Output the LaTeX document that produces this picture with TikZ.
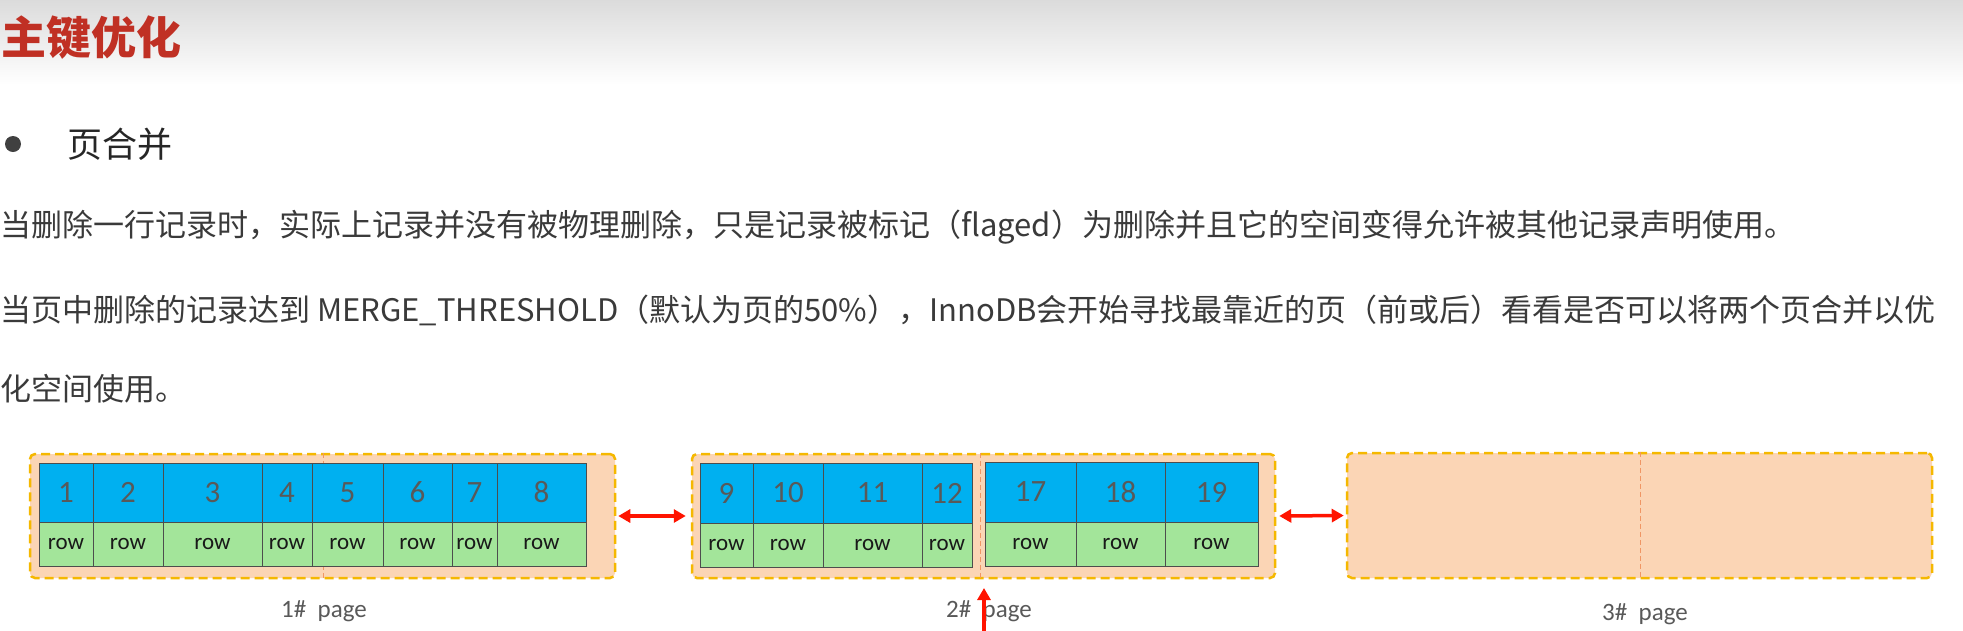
\documentclass[tikz,border=0pt]{standalone}
\usepackage{fontspec}
\usetikzlibrary{arrows.meta}
\newfontfamily\cjk{Noto Sans CJK SC}
\newfontfamily\carl{Carlito}
\definecolor{titlered}{RGB}{192,48,36}
\definecolor{bodygray}{RGB}{58,58,58}
\definecolor{cellbluec}{RGB}{0,176,240}
\definecolor{cellgreenc}{RGB}{163,229,154}
\definecolor{celllinec}{RGB}{77,77,77}
\definecolor{numgray}{RGB}{89,89,89}
\definecolor{peach}{RGB}{251,213,181}
\definecolor{goldc}{RGB}{245,184,0}
\definecolor{innerdash}{RGB}{240,150,100}
\definecolor{arrred}{RGB}{255,20,0}
\tikzset{
  bodytext/.style={anchor=west, inner sep=0pt, text=bodygray, font=\cjk\fontsize{31}{36}\selectfont},
  bluecell/.style={draw=celllinec, line width=1pt, fill=cellbluec, inner sep=0pt, text=numgray, font=\carl\fontsize{31}{34}\selectfont},
  greencell/.style={draw=celllinec, line width=1pt, fill=cellgreenc, inner sep=0pt, text=black!90, font=\carl\fontsize{23}{26}\selectfont},
  pagebox/.style={draw=goldc, line width=2.5pt, dash pattern=on 9pt off 5pt, fill=peach, rounded corners=5pt, inner sep=0pt},
  innerline/.style={draw=innerdash, line width=0.8pt, dash pattern=on 5pt off 3pt},
  redarrow/.style={draw=arrred, line width=3.5pt, arrows={Triangle[length=12pt,width=13pt]-Triangle[length=12pt,width=13pt]}},
  redup/.style={draw=arrred, line width=3.5pt, arrows={-Triangle[length=12pt,width=13pt]}},
  pagelabel/.style={inner sep=0pt, text=numgray, font=\carl\fontsize{25}{28}\selectfont},
}
% #1 name, #2 x0, #3 x1, #4 label, #5 ytop, #6 ymid, #7 ybot
\newcommand\mkcell[7]{%
  \node[bluecell, minimum width={(#3-#2)*1pt}, minimum height={(#6-#5)*1pt}] (#1b) at ({(#2+#3)/2},{(#5+#6)/2}) {#4};
  \node[greencell, minimum width={(#3-#2)*1pt}, minimum height={(#7-#6)*1pt}] (#1g) at ({(#2+#3)/2},{(#6+#7)/2}) {row};
}
\begin{document}
\begin{tikzpicture}[x=1pt,y=-1pt]
\useasboundingbox (0,0) rectangle (1963,630);
\clip (0,0) rectangle (1963,630);
\fill[white] (0,0) rectangle (1963,630);
\shade[top color=black!14, bottom color=white] (0,0) rectangle (1963,85);

% heading texts
\node[anchor=west, inner sep=0pt, text=titlered, font=\cjk\bfseries\fontsize{45}{50}\selectfont] (title) at (1,38) {主键优化};
\node[circle, fill=black!75, minimum size=16pt, inner sep=0pt] (bullet) at (13,144) {};
\node[anchor=west, inner sep=0pt, text=black!85, font=\cjk\fontsize{35}{40}\selectfont] (sub) at (67,144) {页合并};
\node[bodytext] (line1) at (0,227) {当删除一行记录时，实际上记录并没有被物理删除，只是记录被标记（flaged）为删除并且它的空间变得允许被其他记录声明使用。};
\node[bodytext] (line2) at (0,310) {当页中删除的记录达到 MERGE\_THRESHOLD（默认为页的50\%），InnoDB会开始寻找最靠近的页（前或后）看看是否可以将两个页合并以优};
\node[bodytext] (line3) at (0,389) {化空间使用。};

% pages
\node[pagebox, minimum width=585pt, minimum height=124pt] (p1) at (322.5,516) {};
\node[pagebox, minimum width=583pt, minimum height=124pt] (p2) at (983.5,516) {};
\node[pagebox, minimum width=585pt, minimum height=125pt] (p3) at (1639.5,515.5) {};
\draw[innerline] (p1.north -| 323,0) -- (p1.south -| 323,0);
\draw[innerline] (p2.north -| 980,0) -- (p2.south -| 980,0);
\draw[innerline] (p3.north -| 1640,0) -- (p3.south -| 1640,0);

% page 1 cells
\mkcell{c1}{39}{93}{1}{463}{522}{566}
\mkcell{c2}{93}{163}{2}{463}{522}{566}
\mkcell{c3}{163}{262}{3}{463}{522}{566}
\mkcell{c4}{262}{312}{4}{463}{522}{566}
\mkcell{c5}{312}{383}{5}{463}{522}{566}
\mkcell{c6}{383}{452}{6}{463}{522}{566}
\mkcell{c7}{452}{497}{7}{463}{522}{566}
\mkcell{c8}{497}{586}{8}{463}{522}{566}
% page 2 cells
\mkcell{c9}{700}{753}{9}{463}{523}{567}
\mkcell{c10}{753}{823}{10}{463}{523}{567}
\mkcell{c11}{823}{922}{11}{463}{523}{567}
\mkcell{c12}{922}{972}{12}{463}{523}{567}
\mkcell{c17}{985}{1076}{17}{462}{522}{566}
\mkcell{c18}{1076}{1165}{18}{462}{522}{566}
\mkcell{c19}{1165}{1258}{19}{462}{522}{566}

% arrows
\draw[redarrow, shorten <=2pt, shorten >=5pt] (p1.east) -- (p2.west);
\draw[redarrow, shorten <=3pt, shorten >=2pt] (p2.east) -- (p3.west);

% labels
\node[pagelabel] (lab1) at (324,611) {1\#\ \ page};
\node[pagelabel] (lab2) at (989,611) {2\#\ \ page};
\node[pagelabel] (lab3) at (1645,614) {3\#\ \ page};
\coordinate (upbot) at (984,640);
\coordinate (uptop) at (984,588);
\draw[redup] (upbot) -- (uptop);
\end{tikzpicture}
\end{document}
